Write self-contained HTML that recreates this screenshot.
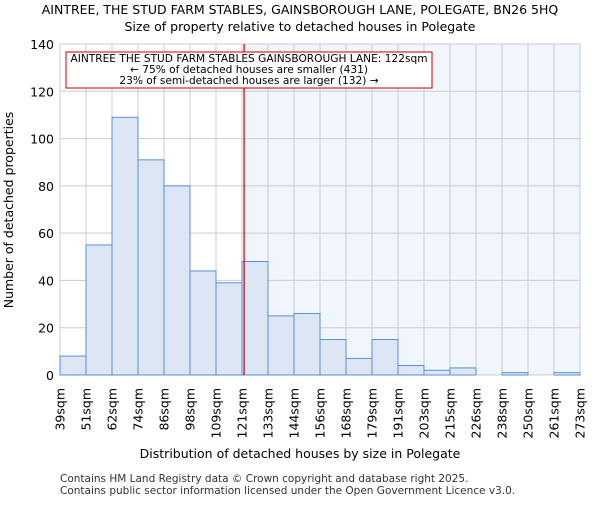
<!DOCTYPE html>
<html><head><meta charset="utf-8"><style>
body{margin:0;background:#fff;font-family:"Liberation Sans","DejaVu Sans",sans-serif}
</style></head><body>
<svg id="c" width="600" height="500" xmlns="http://www.w3.org/2000/svg" font-family="DejaVu Sans, Liberation Sans, sans-serif">
<text x="300" y="14" text-anchor="middle" font-size="12.5">AINTREE, THE STUD FARM STABLES, GAINSBOROUGH LANE, POLEGATE, BN26 5HQ</text>
<text x="300" y="31" text-anchor="middle" font-size="12.5">Size of property relative to detached houses in Polegate</text>
<g id="plot"></g>
<text x="300" y="458" text-anchor="middle" font-size="12.5">Distribution of detached houses by size in Polegate</text>
<text transform="translate(13,210) rotate(-90)" text-anchor="middle" font-size="12.5">Number of detached properties</text>
<text x="60" y="482" font-size="10.5" fill="#333">Contains HM Land Registry data © Crown copyright and database right 2025.</text>
<text x="60" y="494" font-size="10.5" fill="#333">Contains public sector information licensed under the Open Government Licence v3.0.</text>
</svg>
<script>
const categories=["39sqm","51sqm","62sqm","74sqm","86sqm","98sqm","109sqm","121sqm","133sqm","144sqm","156sqm","168sqm","179sqm","191sqm","203sqm","215sqm","226sqm","238sqm","250sqm","261sqm","273sqm"];
const counts=[8,55,109,91,80,44,39,48,25,26,15,7,15,4,2,3,0,1,0,1];
const yTicks=[0,20,40,60,80,100,120,140];
const markerValue=7.08;
const NS="http://www.w3.org/2000/svg";
const L=60,R=580,T=44,B=375,yMax=140;
const nb=counts.length,bw=(R-L)/nb;
const x=i=>L+i*bw;
const y=v=>B-v/yMax*(B-T);
const g=document.getElementById('plot');
function mk(t,a){const e=document.createElementNS(NS,t);for(const k in a)e.setAttribute(k,a[k]);g.appendChild(e);return e;}
const mx=x(markerValue);
let e=mk('rect',{x:mx,y:T,width:R-mx,height:B-T,fill:'#f1f5fd'});


yTicks.forEach(v=>{const l=mk('line',{x1:L,x2:R,y1:y(v),y2:y(v),stroke:'#ccc','stroke-width':1});


const t=mk('text',{x:L-6,y:y(v)+5,'text-anchor':'end','font-size':12.5});t.textContent=v;

});
categories.forEach((c,i)=>{const l=mk('line',{x1:x(i),x2:x(i),y1:T,y2:B,stroke:'#ccc','stroke-width':1});


const t=mk('text',{transform:`translate(${x(i)+4.5},${B+13}) rotate(-90)`,'text-anchor':'end','font-size':12.5});t.textContent=c;

});
counts.forEach((v,i)=>{if(v<=0)return;const r=mk('rect',{x:x(i),y:y(v),width:bw,height:B-y(v),fill:'#dce6f5',stroke:'#5b8fd6','stroke-width':1});

});
e=mk('line',{x1:mx,x2:mx,y1:T,y2:B,stroke:'#cc0000','stroke-width':1.2});


e=mk('rect',{x:66,y:52,width:366,height:36,fill:'#fff',stroke:'#cc0000','stroke-width':1});


["AINTREE THE STUD FARM STABLES GAINSBOROUGH LANE: 122sqm","← 75% of detached houses are smaller (431)","23% of semi-detached houses are larger (132) →"].forEach((s,k)=>{const t=mk('text',{x:249,y:62+k*11,'text-anchor':'middle','font-size':10.6});t.textContent=s;

});
</script>
</body></html>
